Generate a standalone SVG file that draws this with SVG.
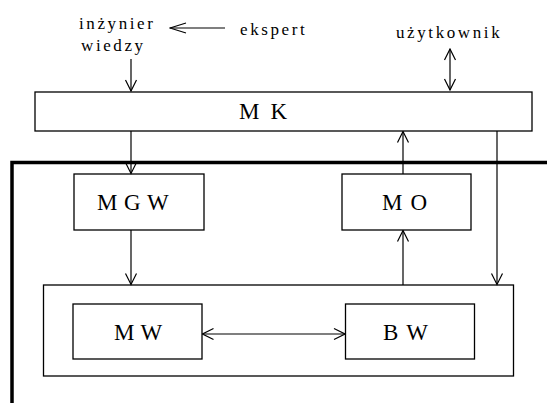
<svg xmlns="http://www.w3.org/2000/svg" width="547" height="403" viewBox="0 0 547 403">
<style>
.box{fill:#fff;stroke:#000;stroke-width:1.3}
.ln{fill:none;stroke:#000;stroke-width:1.2}
.sm{font-family:"Liberation Serif","Times New Roman",serif;font-size:17px;letter-spacing:2.6px;fill:#000}
.lg{font-family:"Liberation Serif","Times New Roman",serif;font-size:23px;fill:#000}
</style>
<defs>
<marker id="ah" viewBox="-13 -7 14 14" refX="0" refY="0" markerWidth="14" markerHeight="14" orient="auto-start-reverse" markerUnits="userSpaceOnUse">
<path d="M-11,-5.5 L0,0 L-11,5.5" fill="none" stroke="#000" stroke-width="1.2"/>
</marker>
<marker id="ahl" viewBox="-17 -7 18 14" refX="0" refY="0" markerWidth="18" markerHeight="14" orient="auto-start-reverse" markerUnits="userSpaceOnUse">
<path d="M-16,-5 L0,0 L-16,5" fill="none" stroke="#000" stroke-width="1.2"/>
</marker>
</defs>
<rect width="547" height="403" fill="#fff"/>
<path d="M12,403 V162.5 H547" fill="none" stroke="#000" stroke-width="3.5"/>
<g id="labels">
<text class="sm" x="79" y="29">inżynier</text>
<text class="sm" x="81" y="51">wiedzy</text>
<text class="sm" x="240" y="35">ekspert</text>
<text class="sm" x="396" y="38">użytkownik</text>
</g>
<g id="MK"><rect class="box" x="35" y="92" width="497" height="39"/><text class="lg" x="239" y="119" style="letter-spacing:11px">MK</text></g>
<g id="MGW"><rect class="box" x="74" y="174" width="130" height="56"/><text class="lg" x="97" y="210" style="letter-spacing:6.5px">MGW</text></g>
<g id="MO"><rect class="box" x="342" y="174" width="129" height="56"/><text class="lg" x="382" y="210" style="letter-spacing:8px">MO</text></g>
<g id="system"><rect class="box" x="43.5" y="285" width="470" height="91"/></g>
<g id="MW"><rect class="box" x="73" y="304" width="129" height="55"/><text class="lg" x="114" y="340" style="letter-spacing:6px">MW</text></g>
<g id="BW"><rect class="box" x="345.5" y="304" width="129" height="55"/><text class="lg" x="383" y="340" style="letter-spacing:8px">BW</text></g>
<g id="connectors">
<line class="ln" x1="131" y1="59" x2="131" y2="91" marker-end="url(#ah)"/>
<line class="ln" x1="225" y1="28" x2="170" y2="28" marker-end="url(#ahl)"/>
<line class="ln" x1="450" y1="49" x2="450" y2="90" marker-start="url(#ah)" marker-end="url(#ah)"/>
<line class="ln" x1="131" y1="131" x2="131" y2="173.5" marker-end="url(#ah)"/>
<line class="ln" x1="403" y1="174" x2="403" y2="131.5" marker-end="url(#ah)"/>
<line class="ln" x1="497" y1="131" x2="497" y2="284.5" marker-end="url(#ah)"/>
<line class="ln" x1="131" y1="230" x2="131" y2="284.5" marker-end="url(#ah)"/>
<line class="ln" x1="403" y1="285" x2="403" y2="230.5" marker-end="url(#ah)"/>
<line class="ln" x1="202.5" y1="334" x2="345" y2="334" marker-start="url(#ah)" marker-end="url(#ah)"/>
</g>
</svg>
